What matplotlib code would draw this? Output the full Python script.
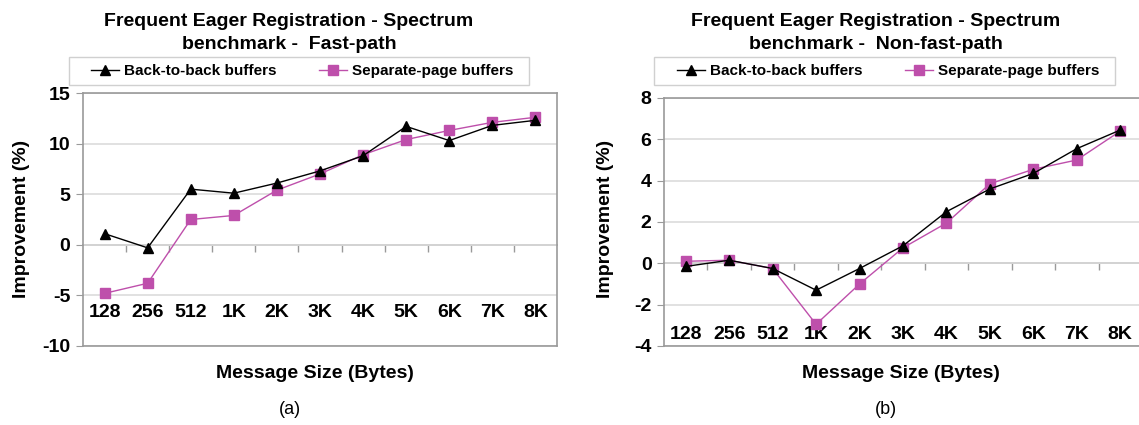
import matplotlib
matplotlib.use("Agg")
import matplotlib.pyplot as plt
from matplotlib.patches import Rectangle

plt.rcParams['font.family'] = ['Liberation Sans', 'DejaVu Sans']

categories = ["128", "256", "512", "1K", "2K", "3K", "4K", "5K", "6K", "7K", "8K"]

fast_b2b = [1.1, -0.3, 5.5, 5.1, 6.1, 7.3, 8.8, 11.7, 10.3, 11.8, 12.3]
fast_sep = [-4.8, -3.8, 2.5, 2.9, 5.4, 7.0, 8.9, 10.4, 11.3, 12.1, 12.6]

nonfast_b2b = [-0.15, 0.15, -0.25, -1.3, -0.25, 0.85, 2.5, 3.6, 4.35, 5.55, 6.45]
nonfast_sep = [0.1, 0.15, -0.25, -2.95, -1.0, 0.75, 1.95, 3.85, 4.55, 5.0, 6.4]

series_names = ["Back-to-back buffers", "Separate-page buffers"]
titles = ["Frequent Eager Registration - Spectrum\nbenchmark -  Fast-path",
          "Frequent Eager Registration - Spectrum\nbenchmark -  Non-fast-path"]
panel_labels = ["(a)", "(b)"]

BLACK = "#000000"
MAGENTA = "#BE4FAB"
GRID = "#DCDCDC"
FRAME = "#9A9A9A"

W, H = 1139, 425
fig = plt.figure(figsize=(W / 100, H / 100), dpi=100)

def fx(px):
    return px / W

def fy(py):
    return 1 - py / H

panels = [
    dict(rect=[fx(83), fy(346), fx(474), (346 - 93) / H], ylim=(-10, 15), yticks=[-10, -5, 0, 5, 10, 15],
         data=(fast_b2b, fast_sep), xlab_y=-6.7, title_x=289, xlabel_x=315, plab_x=290, ylabel_x=22,
         leg=(69, 57, 529, 85), leg_start=91),
    dict(rect=[fx(664), fy(346), fx(478), (346 - 98) / H], ylim=(-4, 8), yticks=[-4, -2, 0, 2, 4, 6, 8],
         data=(nonfast_b2b, nonfast_sep), xlab_y=-3.42, title_x=876, xlabel_x=901, plab_x=886, ylabel_x=606,
         leg=(654, 57, 1115, 85), leg_start=677),
]

x = list(range(len(categories)))

for i, p in enumerate(panels):
    ax = fig.add_axes(p["rect"])
    ax.set_xlim(-0.5, len(categories) - 0.5)
    ax.set_ylim(*p["ylim"])
    ax.set_yticks(p["yticks"])
    ax.set_yticklabels([str(t) for t in p["yticks"]], fontsize=14, fontweight="bold")
    ax.tick_params(axis="y", direction="out", length=5, color=FRAME, pad=4)
    ax.yaxis.grid(True, color=GRID, linewidth=1.2)
    ax.set_axisbelow(True)
    for s in ax.spines.values():
        s.set_color(FRAME)
        s.set_linewidth(1.2)
    ax.set_xticks([])
    for xi, lab in zip(x, categories):
        ax.text(xi, p["xlab_y"], lab, ha="center", va="center", fontsize=14, fontweight="bold")
    ymin, ymax = p["ylim"]
    zero_frac = (0 - ymin) / (ymax - ymin)
    sec = ax.secondary_xaxis(zero_frac)
    sec.set_xticks([k + 0.5 for k in range(len(categories) - 1)])
    sec.set_xticklabels([])
    sec.tick_params(axis="x", direction="out", length=5, color=FRAME, width=1)
    for s in sec.spines.values():
        s.set_color(FRAME)
        s.set_linewidth(1.2)

    b2b, sep = p["data"]
    l1, = ax.plot(x, b2b, color=BLACK, marker="^", markersize=7.5, linewidth=1, clip_on=False, zorder=4)
    l2, = ax.plot(x, sep, color=MAGENTA, marker="s", markersize=6.5, linewidth=1, clip_on=False, zorder=3)

    lx0, ly0, lx1, ly1 = p["leg"]
    fig.patches.append(Rectangle((fx(lx0), fy(ly1)), fx(lx1 - lx0), (ly1 - ly0) / H,
                                 transform=fig.transFigure, facecolor="white",
                                 edgecolor="#D0D0D0", linewidth=1.0, zorder=0))
    leg = fig.legend([l1, l2], series_names, loc="center left",
                     bbox_to_anchor=(fx(p["leg_start"]), fy((ly0 + ly1) / 2)),
                     ncol=2, frameon=False, prop=dict(size=11, weight="bold"),
                     handlelength=1.85, handletextpad=0.33, columnspacing=2.75,
                     borderaxespad=0, borderpad=0)

    fig.text(fx(p["title_x"]), fy(33), titles[i], ha="center", va="center", fontsize=14,
             fontweight="bold", linespacing=1.4)
    fig.text(fx(p["xlabel_x"]), fy(374), "Message Size (Bytes)", ha="center", va="center",
             fontsize=14, fontweight="bold")
    fig.text(fx(p["plab_x"]), fy(410), panel_labels[i], ha="center", va="center", fontsize=13)
    fig.text(fx(p["ylabel_x"]), fy(219), "Improvement (%)", ha="center", va="center",
             rotation=90, fontsize=14, fontweight="bold")

fig.savefig("out.png", dpi=100)
